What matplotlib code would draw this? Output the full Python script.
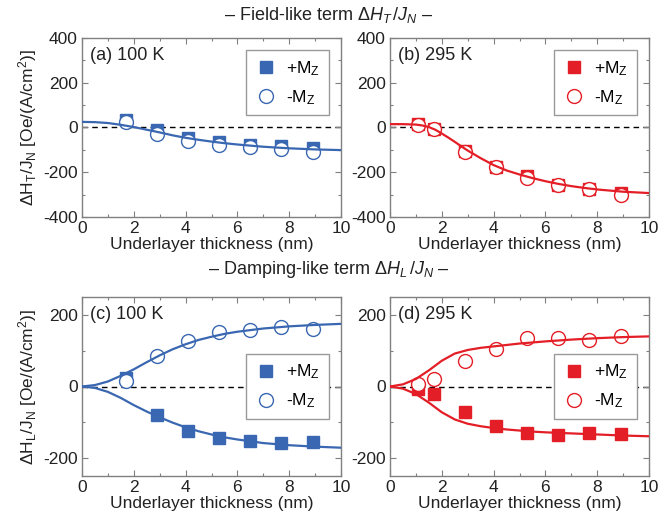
import matplotlib
matplotlib.use("Agg")
import matplotlib.pyplot as plt
from matplotlib.ticker import MultipleLocator

plt.rcParams['font.family'] = ['Liberation Sans', 'DejaVu Sans']
plt.rcParams['mathtext.fontset'] = 'custom'
plt.rcParams['mathtext.rm'] = 'Liberation Sans'
plt.rcParams['mathtext.it'] = 'Liberation Sans:italic'
plt.rcParams['mathtext.bf'] = 'Liberation Sans:bold'
plt.rcParams['axes.unicode_minus'] = False

BLUE = '#3A67B1'
RED = '#E41E26'

# ---------- data ----------
x_100 = [1.7, 2.9, 4.1, 5.3, 6.5, 7.7, 8.9]
x_295 = [1.1, 1.7, 2.9, 4.1, 5.3, 6.5, 7.7, 8.9]

# (a) field-like, 100 K
a_plus = [35, -12, -47, -65, -77, -83, -93]
a_minus = [25, -28, -60, -77, -89, -98, -108]
a_fit_x = [0, 0.5, 1, 1.5, 2, 2.5, 3, 3.5, 4, 4.5, 5, 5.5, 6, 6.5, 7, 8, 9, 10]
a_fit_y = [25, 24, 20, 12, 2, -10, -22, -35, -46, -55, -63, -70, -76, -81, -86, -93, -98, -101]

# (b) field-like, 295 K
b_plus = [15, -5, -104, -175, -218, -259, -274, -292]
b_minus = [10, -8, -108, -178, -225, -259, -277, -301]
b_fit_x = [0, 0.5, 1, 1.25, 1.5, 1.75, 2, 2.25, 2.5, 2.75, 3, 3.5, 4, 4.5, 5, 5.5, 6, 6.5, 7, 7.5, 8, 9, 10]
b_fit_y = [15, 15, 13, 9, 2, -10, -27, -45, -64, -84, -103, -137, -168, -192, -210, -226, -240, -252, -262, -270, -277, -287, -293]

# (c) damping-like, 100 K
c_plus = [24, -79, -123, -145, -153, -159, -154]
c_minus = [16, 86, 127, 153, 158, 165, 160]
c_fit_x = [0, 0.5, 1, 1.5, 2, 2.5, 3, 3.5, 4, 4.5, 5, 5.5, 6, 7, 8, 9, 10]
c_fit_up = [0, 4, 14, 30, 48, 68, 87, 104, 118, 130, 139, 147, 153, 162, 168, 172, 175]
c_fit_dn = [0, -4, -15, -32, -52, -70, -86, -101, -114, -125, -134, -142, -148, -158, -164, -168, -171]

# (d) damping-like, 295 K
d_plus = [-7, -20, -70, -109, -130, -135, -130, -132]
d_minus = [7, 22, 70, 105, 135, 135, 130, 142]
d_fit_x = [0, 0.5, 1, 1.5, 2, 2.5, 3, 3.5, 4, 4.5, 5, 5.5, 6, 7, 8, 9, 10]
d_fit_up = [0, 6, 21, 45, 72, 92, 102, 108, 112, 116, 120, 123, 126, 131, 135, 138, 140]
d_fit_dn = [0, -6, -21, -45, -72, -92, -104, -111, -116, -120, -123, -126, -128, -131, -134, -137, -139]

panel_labels = ['(a) 100 K', '(b) 295 K', '(c) 100 K', '(d) 295 K']
xlabel = 'Underlayer thickness (nm)'
ylabel_top = r'$\mathrm{\Delta H_T/J_N}$ [Oe/(A/cm$^2$)]'
ylabel_bot = r'$\mathrm{\Delta H_L/J_N}$ [Oe/(A/cm$^2$)]'
title_top = r'– Field-like term $\Delta H_T\,/J_N$ –'
title_bot = r'– Damping-like term $\Delta H_L\,/J_N$ –'
leg_plus = r'+M$_\mathrm{Z}$'
leg_minus = r'-M$_\mathrm{Z}$'

# ---------- figure ----------
W, H = 661, 517
fig = plt.figure(figsize=(W / 100, H / 100), dpi=100)

def ax_rect(x0, y0, x1, y1):
    return [x0 / W, 1 - y1 / H, (x1 - x0) / W, (y1 - y0) / H]

axA = fig.add_axes(ax_rect(82, 38, 341, 217))
axB = fig.add_axes(ax_rect(390, 38, 649, 217))
axC = fig.add_axes(ax_rect(82, 297, 341, 476))
axD = fig.add_axes(ax_rect(390, 297, 649, 476))

FS = 12.5
GRAY = '#808080'

def style(ax, ylim, major, minor):
    ax.set_xlim(0, 10)
    ax.set_ylim(*ylim)
    ax.xaxis.set_major_locator(MultipleLocator(2))
    ax.xaxis.set_minor_locator(MultipleLocator(1))
    ax.yaxis.set_major_locator(MultipleLocator(major))
    ax.yaxis.set_minor_locator(MultipleLocator(minor))
    ax.tick_params(which='both', direction='in', top=True, right=True,
                   color=GRAY, labelsize=FS, labelcolor='#222222', pad=3)
    ax.tick_params(which='major', length=4, width=0.8)
    ax.tick_params(which='minor', length=2.5, width=0.8)
    for s in ax.spines.values():
        s.set_color(GRAY)
        s.set_linewidth(1.0)
    ax.axhline(0, color='black', lw=1.0, ls=(0, (4, 3)), zorder=1)
    ax.set_xlabel(xlabel, fontsize=FS, labelpad=0.5, color='#222222')

def draw(ax, xs, yp, ym, color, fits, label, legloc):
    for fx, fy in fits:
        ax.plot(fx, fy, color=color, lw=1.6, zorder=4)
    hp, = ax.plot(xs, yp, ls='none', marker='s', ms=8.5, color=color,
                  mec=color, zorder=3, label=leg_plus)
    hm, = ax.plot(xs, ym, ls='none', marker='o', ms=10, mfc='white',
                  mec=color, mew=1.0, zorder=3.5, label=leg_minus)
    ax.text(0.03, 0.95, label, transform=ax.transAxes, ha='left', va='top',
            fontsize=FS + 0.5, color='#222222')
    leg = ax.legend(handles=[hp, hm], loc=legloc, fontsize=FS, frameon=True,
                    fancybox=False, edgecolor='#999999', framealpha=1,
                    handletextpad=0.6, borderpad=0.5, labelspacing=0.6,
                    handlelength=1.2, borderaxespad=0.7)
    leg.get_frame().set_linewidth(1.0)

style(axA, (-400, 400), 200, 100)
style(axB, (-400, 400), 200, 100)
style(axC, (-250, 250), 200, 100)
style(axD, (-250, 250), 200, 100)

draw(axA, x_100, a_plus, a_minus, BLUE, [(a_fit_x, a_fit_y)], panel_labels[0], 'upper right')
draw(axB, x_295, b_plus, b_minus, RED, [(b_fit_x, b_fit_y)], panel_labels[1], 'upper right')
draw(axC, x_100, c_plus, c_minus, BLUE, [(c_fit_x, c_fit_up), (c_fit_x, c_fit_dn)], panel_labels[2], 'center right')
draw(axD, x_295, d_plus, d_minus, RED, [(d_fit_x, d_fit_up), (d_fit_x, d_fit_dn)], panel_labels[3], 'center right')

axA.set_ylabel(ylabel_top, fontsize=FS, labelpad=3, color='#222222')
axC.set_ylabel(ylabel_bot, fontsize=FS, labelpad=3, color='#222222')

fig.text(0.497, 1 - 15 / H, title_top, ha='center', va='center', fontsize=13, color='#222222')
fig.text(0.497, 1 - 270 / H, title_bot, ha='center', va='center', fontsize=13, color='#222222')

fig.savefig('out.png', dpi=100)
